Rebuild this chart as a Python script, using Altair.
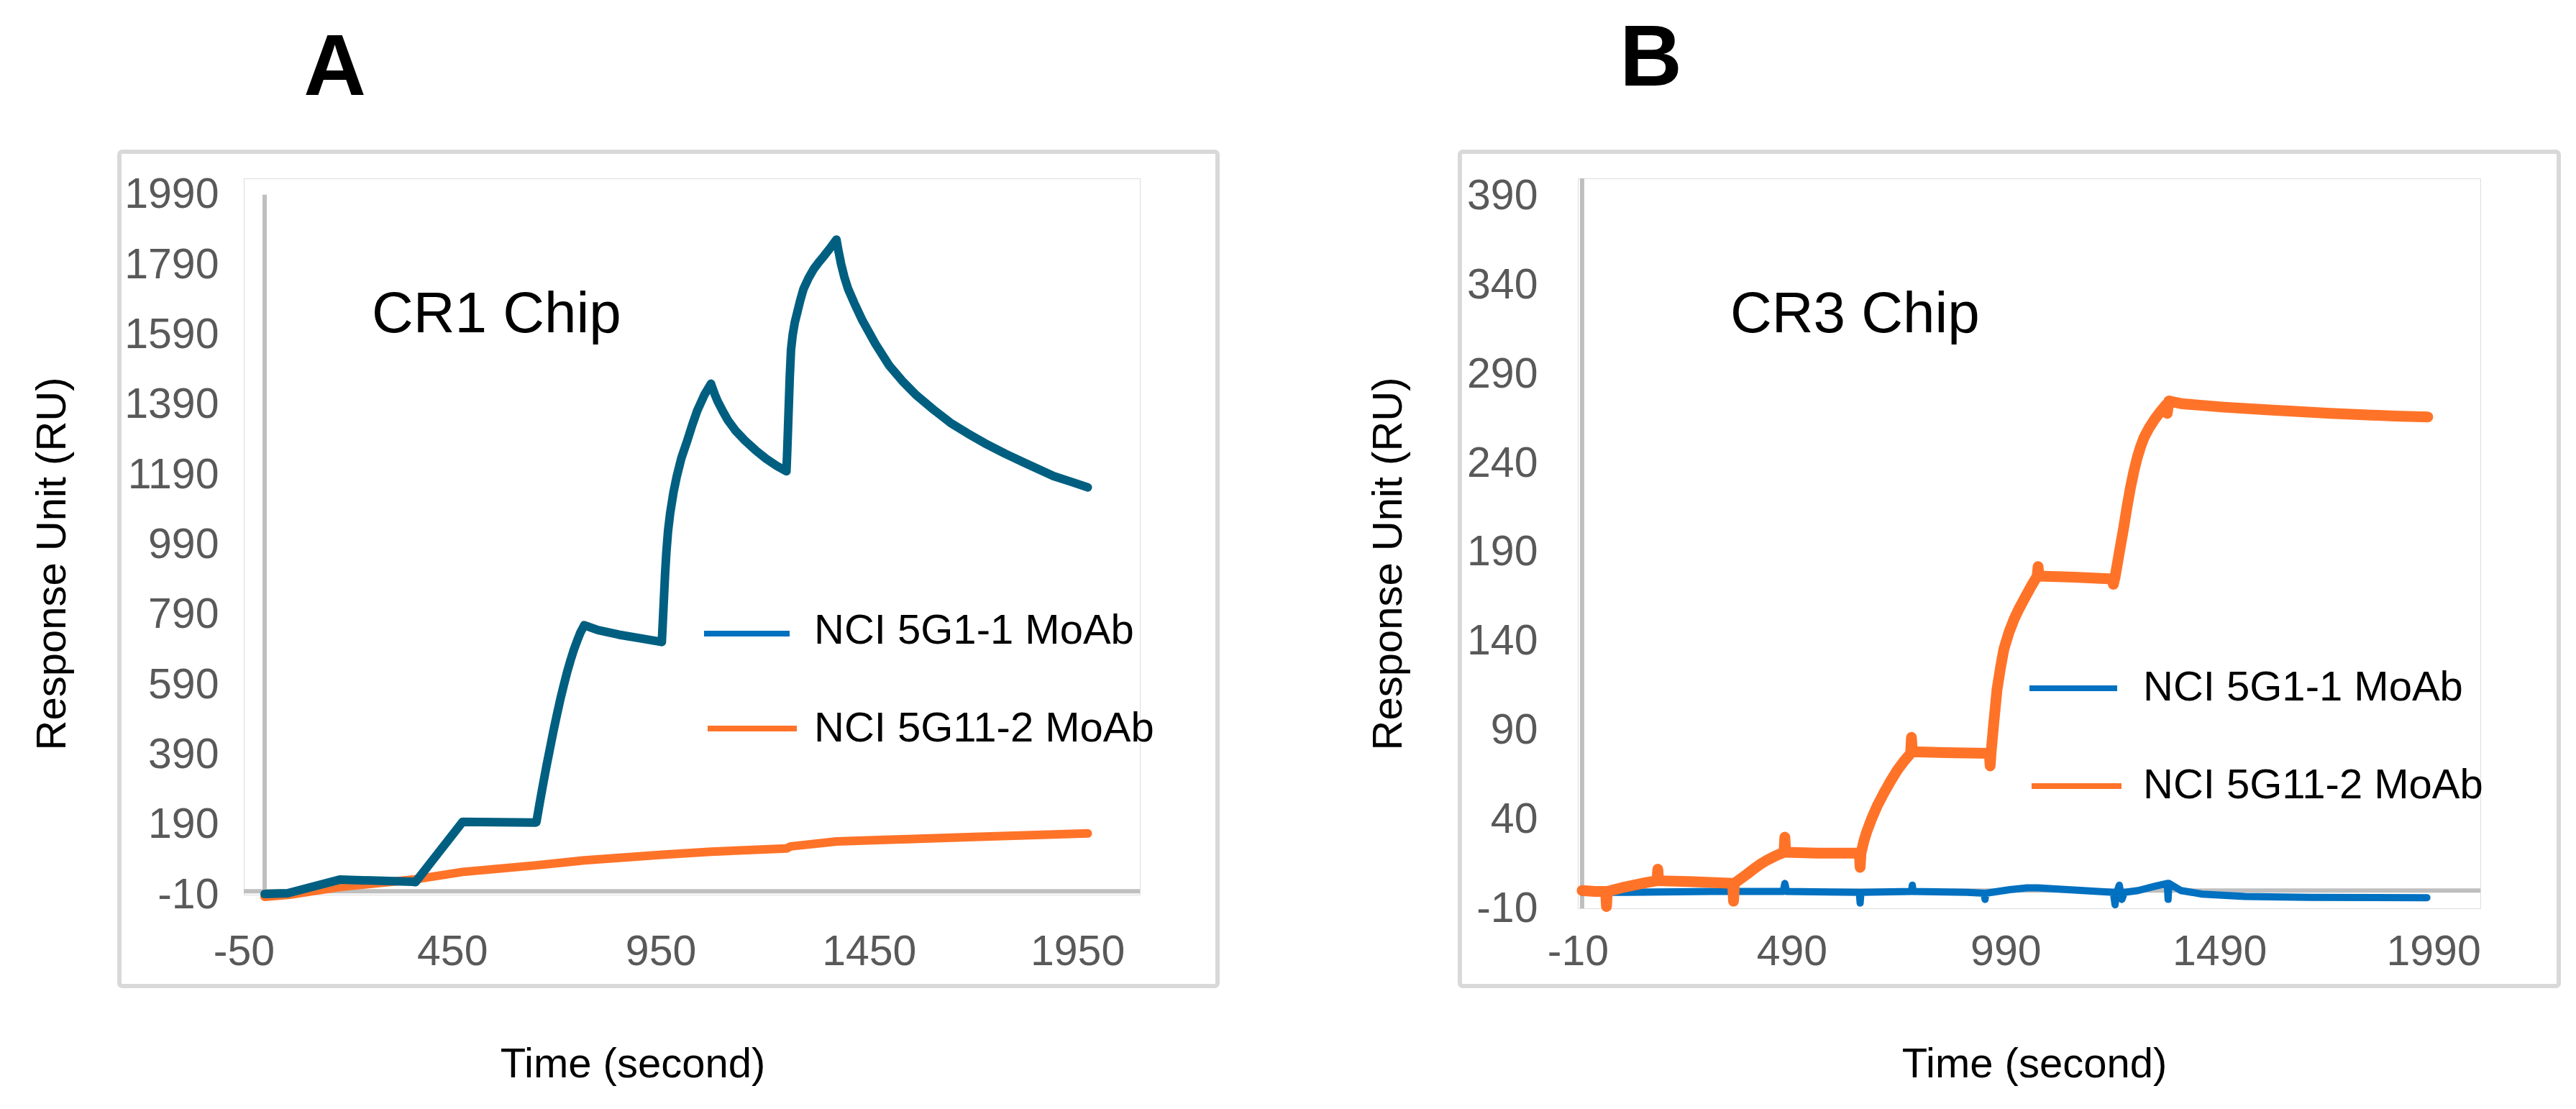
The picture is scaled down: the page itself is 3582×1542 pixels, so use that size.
import altair as alt
import pandas as pd

SERIES = ["NCI 5G1-1 MoAb", "NCI 5G11-2 MoAb"]

# ---------------- Panel A (CR1 Chip) ----------------
A_BLUE_T = [0, 55, 180, 355, 362, 475, 650,
            652, 660, 668, 676, 685, 693, 701, 710, 718, 726, 734, 742, 750, 758, 767,
            800, 850, 900, 953,
            955, 957, 959, 961, 964, 968, 973, 981, 989, 1000, 1014, 1026, 1038, 1055, 1071,
            1075, 1080, 1087, 1100, 1112, 1130, 1153, 1178, 1203, 1228, 1252,
            1254, 1256, 1258, 1260, 1263, 1267, 1272, 1277, 1285, 1293, 1305, 1318, 1330, 1342,
            1357, 1372,
            1376, 1383, 1391, 1400, 1415, 1433, 1465, 1498, 1530, 1564, 1605, 1646, 1687, 1728,
            1777, 1827, 1860, 1893, 1935, 1975]
A_BLUE_V = [-8, -6, 33, 27, 26, 198, 196,
            197, 252, 305, 356, 410, 458, 503, 551, 590, 627, 660, 690, 716, 740, 760,
            746, 733, 723, 712,
            760, 810, 860, 910, 970, 1030, 1080, 1140, 1186, 1238, 1287, 1332, 1373, 1418, 1450,
            1436, 1420, 1400, 1370, 1345, 1316, 1287, 1260, 1236, 1216, 1200,
            1260, 1330, 1400, 1470, 1547, 1590, 1625, 1649, 1688, 1721, 1752, 1779, 1798, 1815,
            1838, 1862,
            1835, 1793, 1755, 1721, 1680, 1634, 1565, 1503, 1458, 1417, 1376, 1338, 1308, 1280,
            1250, 1222, 1204, 1186, 1170, 1154]
A_ORANGE_T = [0, 60, 180, 356, 475, 652, 767, 953, 1071, 1252, 1262, 1372, 1500, 1700, 1975]
A_ORANGE_V = [-16, -10, 12, 33, 55, 74, 88, 104, 113, 122, 128, 142, 147, 155, 165]

A_X_TICKS = [-50, 450, 950, 1450, 1950]
A_Y_TICKS = [-10, 190, 390, 590, 790, 990, 1190, 1390, 1590, 1790, 1990]

# ---------------- Panel B (CR3 Chip) ----------------
B_BLUE_T = [0, 100, 300, 470, 474, 478, 648, 650, 652, 770, 772, 774, 900, 940, 942, 944,
            1000, 1040, 1066, 1100, 1242, 1246, 1250, 1256, 1262, 1268, 1300, 1340, 1368,
            1370, 1372, 1400, 1450, 1550, 1700, 1975]
B_BLUE_V = [-1, -1, -0.5, -0.5, 4, -0.5, -1, -7, -1, -0.5, 3, -0.5, -1, -1.5, -5, -1.5,
            0.5, 1.5, 1.5, 1, -1, -8, -1, 3, -5, -1, 0, 2.5, 4, -5, 4, 0, -2, -3.3, -3.8, -4]

B_ORANGE_T = [0, 30, 55, 57, 59, 100, 150, 175, 177, 179, 250, 352, 354,
              356, 370, 386, 402, 418, 434, 450, 462, 472, 474, 476, 550, 648, 650,
              652, 659, 666, 678, 690, 706, 722, 738, 754, 768, 770, 772, 850, 952, 954,
              956, 962, 970, 978, 986, 998, 1010, 1022, 1034, 1049, 1064, 1066, 1068, 1150,
              1240, 1242,
              1246, 1256, 1266, 1274, 1282, 1290, 1298, 1306, 1314, 1326, 1338, 1352, 1366,
              1368, 1372, 1400, 1500, 1600, 1750, 1900, 1977]
B_ORANGE_V = [0, -0.5, -0.5, -9, -0.5, 2, 4.5, 5.5, 12, 5.5, 5, 4, -6,
              4, 6.5, 9.3, 12.3, 15, 17.3, 19.2, 20.5, 21.5, 30, 21.5, 21, 21, 13,
              21, 28, 33.4, 41, 47.6, 55, 61.8, 68, 73.1, 77, 86, 78, 77.5, 77, 70,
              77, 93, 112.8, 125, 135.5, 145, 152.5, 158.5, 163.9, 170.5, 176.6, 182, 176.6, 176,
              175, 172,
              176, 190, 203.6, 215.5, 226.3, 235.5, 243.3, 249.5, 254.6, 260, 264.5, 269, 273,
              268, 275, 273.5, 271.5, 270, 268, 266.5, 266]

B_X_TICKS = [-10, 490, 990, 1490, 1990]
B_Y_TICKS = [-10, 40, 90, 140, 190, 240, 290, 340, 390]

FONT = "Liberation Sans"
AXIS_GRAY = "#BFBFBF"
FRAME_GRAY = "#D9D9D9"
LABEL_GRAY = "#595959"
ORANGE = "#FF7329"
BLUE = "#0070C0"
TEAL = "#005F80"

one = pd.DataFrame({"k": [0]})


def series_df(t, v, name):
    return pd.DataFrame({"t": t, "v": v, "series": name, "i": list(range(len(t)))})


def text_layer(txt, x, y, size, align="left", baseline="alphabetic", bold=False,
               angle=0, color="black"):
    kw = dict(align=align, baseline=baseline, fontSize=size, font=FONT, color=color)
    if bold:
        kw["fontWeight"] = "bold"
    if angle:
        kw["angle"] = angle
    return alt.Chart(one).mark_text(**kw).encode(
        x=alt.value(x), y=alt.value(y), text=alt.value(txt))


def legend_rule(x1, x2, y, color):
    return alt.Chart(one).mark_rule(color=color, strokeWidth=8).encode(
        x=alt.value(x1), x2=alt.value(x2), y=alt.value(y))


def panel(c):
    xs = alt.Scale(domain=c["xdom"], nice=False, zero=False)
    ys = alt.Scale(domain=c["ydom"], nice=False, zero=False)
    xaxis = alt.Axis(values=c["xticks"], domain=False, ticks=False, grid=False,
                     labelFont=FONT, labelFontSize=59, labelColor=LABEL_GRAY,
                     labelPadding=c["xpad"], labelBaseline="middle", title=None,
                     labelFlush=False, labelOverlap=False, tickSize=0,
                     labelExpr="'' + datum.value")
    yaxis = alt.Axis(values=c["yticks"], domain=False, ticks=False, grid=False,
                     labelFont=FONT, labelFontSize=59, labelColor=LABEL_GRAY,
                     labelPadding=c["ypad"], title=None, labelFlush=False,
                     labelOverlap=False, tickSize=0, labelExpr="'' + datum.value")

    yline = alt.Chart(pd.DataFrame({"x": [0], "y1": [c["ydom"][0]], "y2": [c["ytop"]]})).mark_rule(
        color=AXIS_GRAY, strokeWidth=6).encode(
        x=alt.X("x:Q", scale=xs, axis=xaxis),
        y=alt.Y("y1:Q", scale=ys, axis=yaxis), y2="y2:Q")
    xline = alt.Chart(pd.DataFrame({"y": [0], "x1": [c["xdom"][0]], "x2": [c["xdom"][1]]})).mark_rule(
        color=AXIS_GRAY, strokeWidth=6).encode(
        y=alt.Y("y:Q", scale=ys, axis=yaxis),
        x=alt.X("x1:Q", scale=xs, axis=xaxis), x2="x2:Q")

    layers = [yline, xline]
    for df, color, sw in c["lines"]:
        layers.append(alt.Chart(df).mark_line(color=color, strokeWidth=sw, strokeCap="round",
                                              strokeJoin="round").encode(
            x=alt.X("t:Q", scale=xs, axis=xaxis),
            y=alt.Y("v:Q", scale=ys, axis=yaxis),
            order="i:Q"))

    fx1, fx2, fy1, fy2 = c["frame"]
    frame = alt.Chart(one).mark_rect(filled=False, stroke=FRAME_GRAY, strokeWidth=6,
                                     cornerRadius=4).encode(
        x=alt.value(fx1), x2=alt.value(fx2), y=alt.value(fy1), y2=alt.value(fy2))
    layers.append(frame)

    layers += c["extra"]
    return alt.layer(*layers).properties(width=c["width"], height=c["height"])


# pin the top-left of the content to the page margin
pin = alt.Chart(one).mark_rect(opacity=0).encode(
    x=alt.value(-330), x2=alt.value(0), y=alt.value(-239), y2=alt.value(0))

A = panel(dict(
    xdom=[-50, 2100], ydom=[-10, 2037], ytop=1990,
    xticks=A_X_TICKS, yticks=A_Y_TICKS, xpad=79, ypad=35,
    width=1246, height=996,
    lines=[(series_df(A_ORANGE_T, A_ORANGE_V, SERIES[1]), ORANGE, 12),
           (series_df(A_BLUE_T, A_BLUE_V, SERIES[0]), TEAL, 12)],
    frame=(-173, 1354, -37, 1123),
    extra=[pin,
           text_layer("A", 126.5, -116, 120, align="center", bold=True),
           text_layer("CR1 Chip", 178, 214, 80),
           legend_rule(640, 759, 633, BLUE),
           legend_rule(645, 769, 765, ORANGE),
           text_layer(SERIES[0], 793, 630, 58, baseline="middle"),
           text_layer(SERIES[1], 793, 766, 58, baseline="middle"),
           text_layer("Response Unit (RU)", -265, 536, 58, align="center",
                      baseline="middle", angle=270),
           text_layer("Time (second)", 541, 1250, 58, align="center")],
))

B = panel(dict(
    xdom=[-10, 2100], ydom=[-10, 400], ytop=400,
    xticks=B_X_TICKS, yticks=B_Y_TICKS, xpad=60, ypad=56,
    width=1255, height=1015,
    lines=[(series_df(B_BLUE_T, B_BLUE_V, SERIES[0]), BLUE, 10),
           (series_df(B_ORANGE_T, B_ORANGE_V, SERIES[1]), ORANGE, 15)],
    frame=(-164, 1364, -37, 1123),
    extra=[text_layer("B", 101.5, -129, 120, align="center", bold=True),
           text_layer("CR3 Chip", 212, 214, 80),
           legend_rule(628, 750, 709, BLUE),
           legend_rule(631, 756, 845, ORANGE),
           text_layer(SERIES[0], 786, 709, 58, baseline="middle"),
           text_layer(SERIES[1], 786, 845, 58, baseline="middle"),
           text_layer("Response Unit (RU)", -262, 536, 58, align="center",
                      baseline="middle", angle=270),
           text_layer("Time (second)", 635, 1250, 58, align="center")],
))

chart = alt.hconcat(A, B, spacing=609, bounds="flush", padding=0).configure_view(
    strokeWidth=0).configure(background="white")

chart.save("out.html", embed_options={"renderer": "svg", "actions": False})
